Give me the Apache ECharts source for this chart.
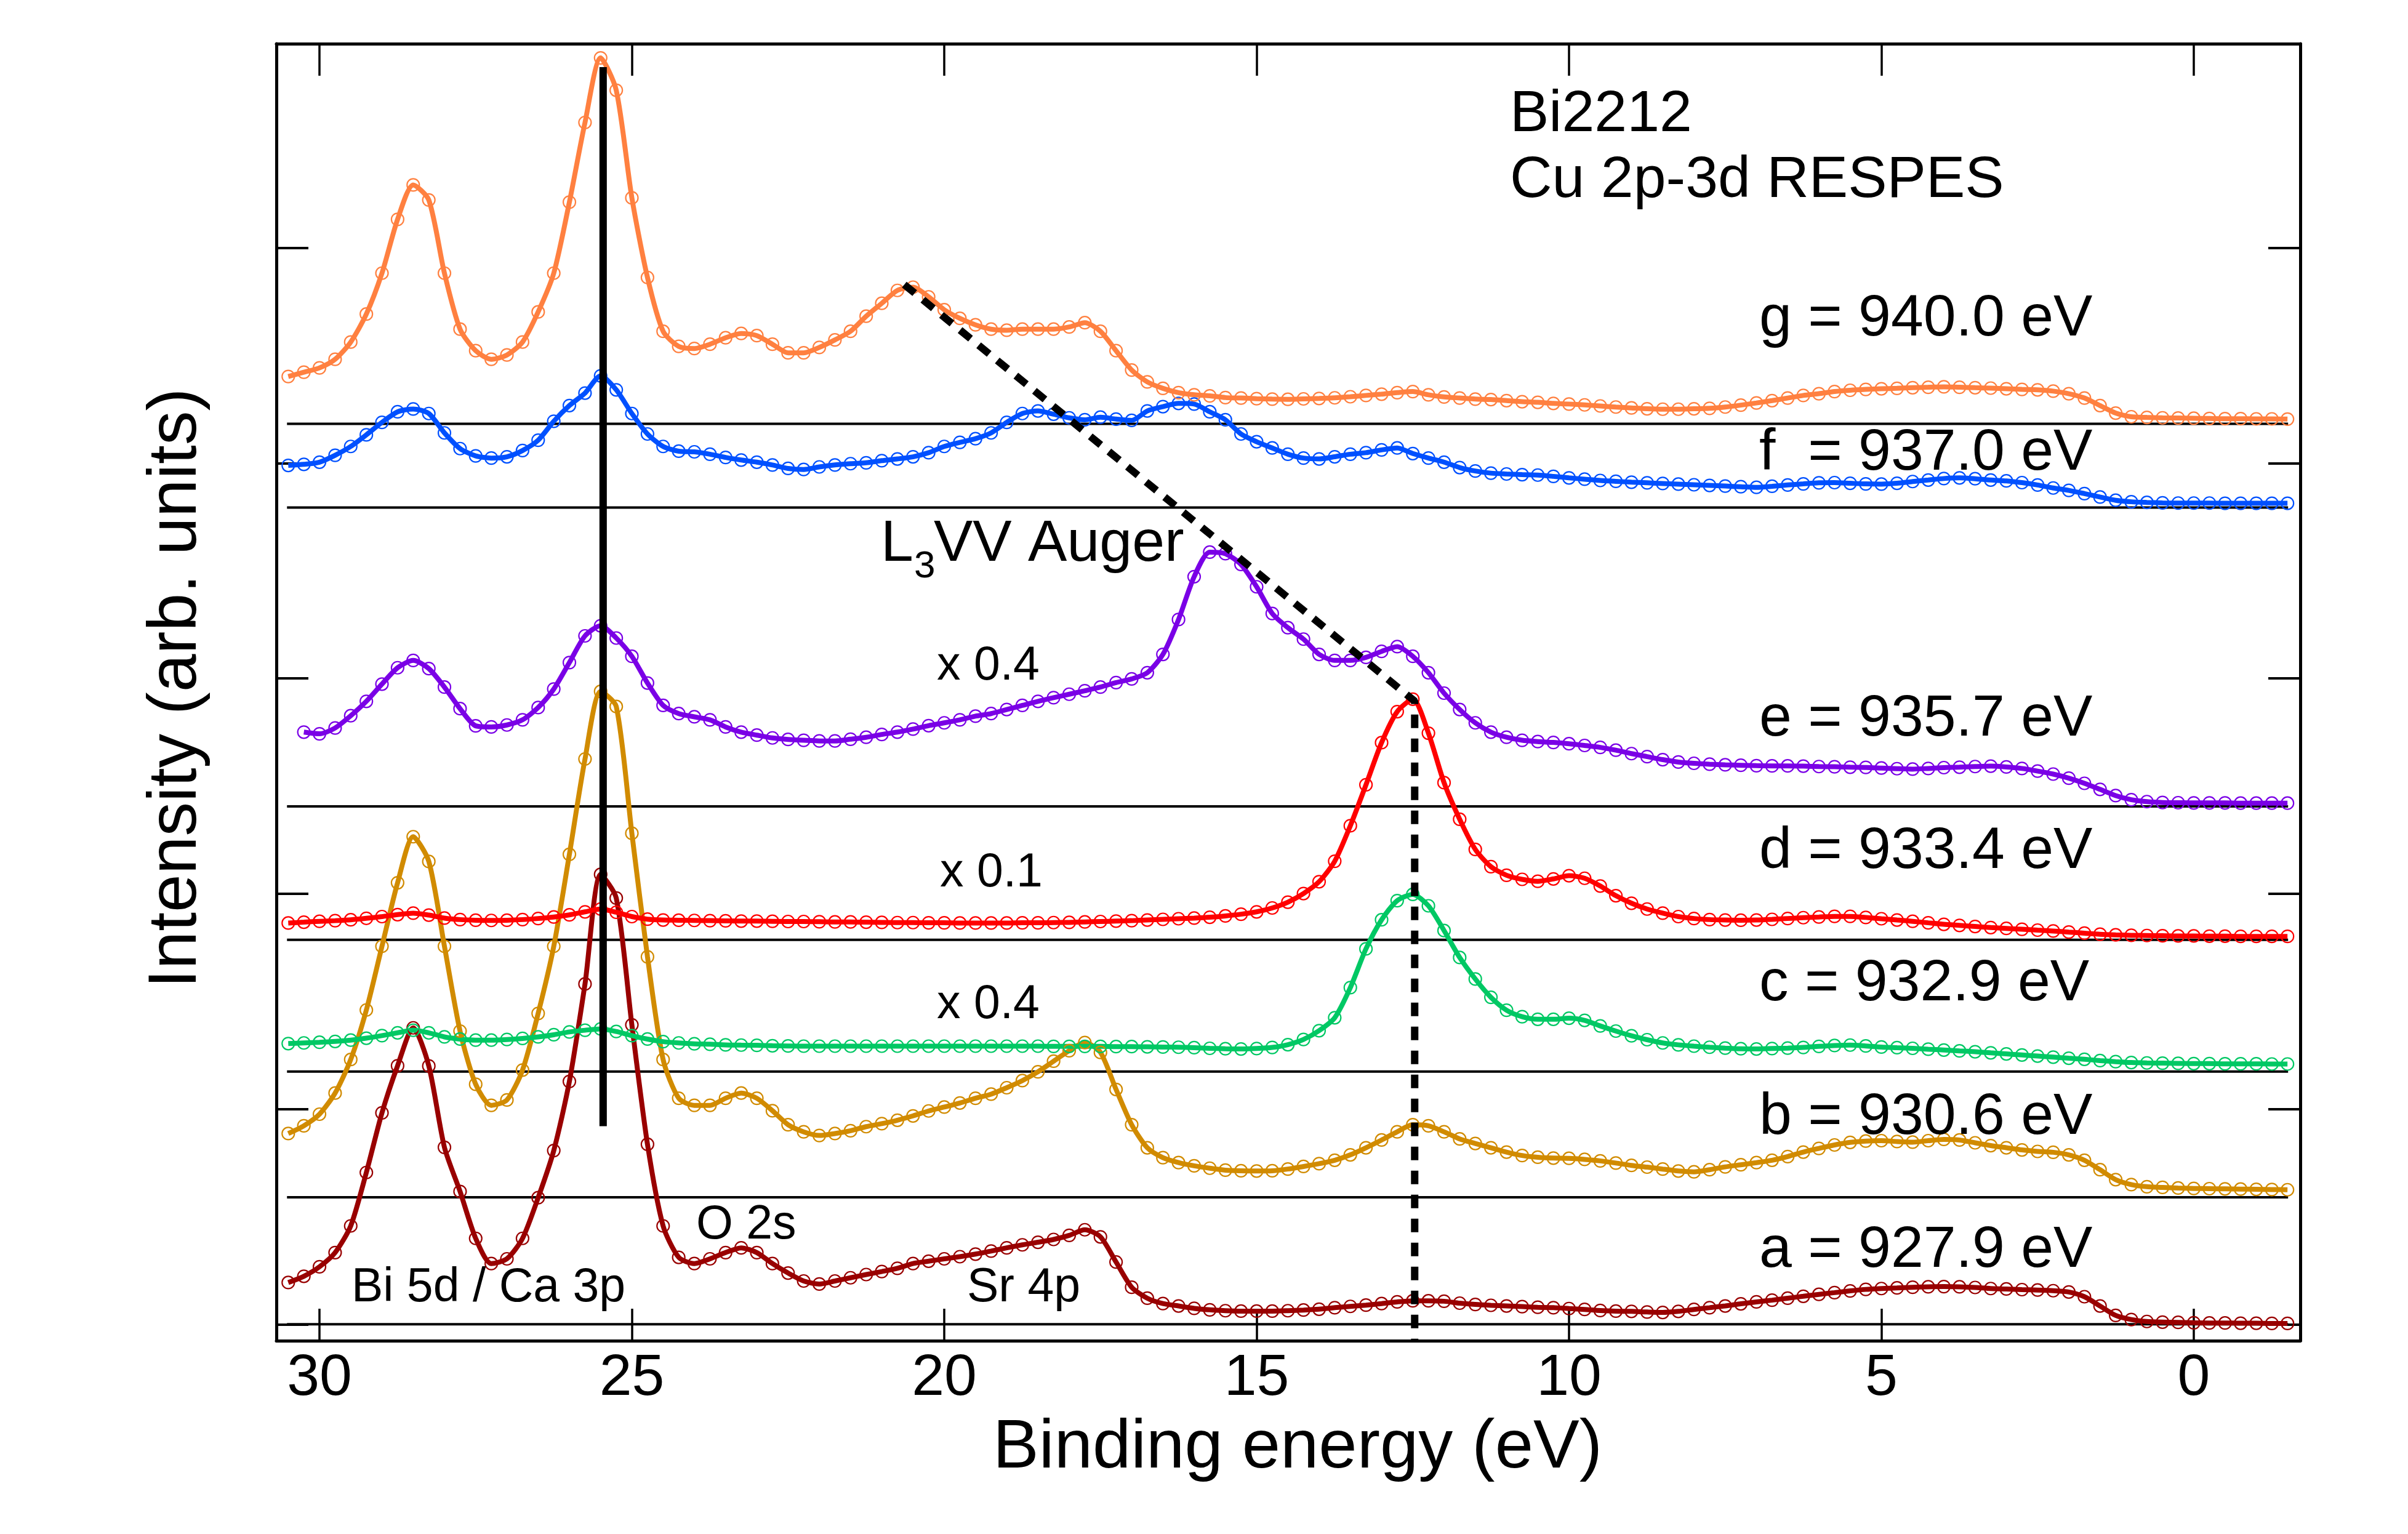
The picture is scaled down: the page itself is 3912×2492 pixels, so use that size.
<!DOCTYPE html>
<html>
<head>
<meta charset="utf-8">
<title>Bi2212 Cu 2p-3d RESPES</title>
<script src="https://cdn.jsdelivr.net/npm/echarts@6.0.0/dist/echarts.min.js"></script>
<style>
  html, body { margin: 0; padding: 0; background: #fff; }
  #chart { width: 3912px; height: 2492px; }
</style>
</head>
<body>
<div id="chart"></div>
<script>
(function(){
  // energy grid: 30.5 eV down to -1.5 eV, 0.25 eV steps (129 points)
  const energyStart = 30.5;
  const energyStep = 0.25;

  // intensities above each spectrum's own baseline (arb. units)
  const specA = [0.194, 0.223,
    0.267, 0.333, 0.457, 0.705,   0.982, 1.201, 1.377, 1.200,   0.822, 0.617, 0.399, 0.282,
    0.304, 0.399, 0.588, 0.807,   1.128, 1.581, 2.090, 1.980,   1.391, 0.836, 0.457, 0.311,
    0.282, 0.304, 0.333, 0.355,   0.333, 0.282, 0.238, 0.201,   0.187, 0.201, 0.216, 0.231,
    0.245, 0.260, 0.282, 0.293,   0.304, 0.314, 0.326, 0.340,   0.355, 0.369, 0.381, 0.394,
    0.413, 0.439, 0.406, 0.289,   0.172, 0.121, 0.096, 0.085,   0.074, 0.067, 0.063, 0.061,
    0.061, 0.061, 0.063, 0.066,   0.070, 0.077, 0.083, 0.089,   0.096, 0.104, 0.109, 0.109,
    0.107, 0.098, 0.092, 0.088,   0.085, 0.082, 0.079, 0.077,   0.073, 0.069, 0.064, 0.061,
    0.060, 0.057, 0.055, 0.060,   0.069, 0.077, 0.085, 0.095,   0.104, 0.112, 0.121, 0.130,
    0.139, 0.147, 0.155, 0.162,   0.166, 0.169, 0.172, 0.174,   0.175, 0.174, 0.171, 0.166,
    0.164, 0.161, 0.159, 0.156,   0.150, 0.128, 0.085, 0.041,   0.022, 0.013, 0.010, 0.009,
    0.007, 0.006, 0.006, 0.005,   0.005, 0.004, 0.004];

  const specB = [0.296, 0.332,
    0.386, 0.484, 0.640, 0.870,   1.166, 1.461, 1.675, 1.560,   1.166, 0.772, 0.525, 0.427,
    0.452, 0.591, 0.854, 1.166,   1.593, 2.036, 2.350, 2.280,   1.691, 1.117, 0.640, 0.460,
    0.427, 0.427, 0.460, 0.484,   0.460, 0.402, 0.337, 0.304,   0.287, 0.296, 0.309, 0.328,
    0.342, 0.358, 0.378, 0.401,   0.419, 0.438, 0.460, 0.479,   0.509, 0.542, 0.583, 0.632,
    0.681, 0.719, 0.673, 0.501,   0.337, 0.230, 0.184, 0.161,   0.146, 0.135, 0.126, 0.123,
    0.122, 0.123, 0.131, 0.143,   0.156, 0.172, 0.197, 0.230,   0.266, 0.304, 0.337, 0.332,
    0.304, 0.271, 0.250, 0.230,   0.210, 0.194, 0.186, 0.182,   0.181, 0.176, 0.169, 0.159,
    0.148, 0.140, 0.131, 0.122,   0.118, 0.128, 0.141, 0.151,   0.161, 0.172, 0.189, 0.210,
    0.227, 0.243, 0.255, 0.261,   0.263, 0.259, 0.256, 0.263,   0.269, 0.266, 0.253, 0.240,
    0.230, 0.220, 0.213, 0.209,   0.197, 0.172, 0.128, 0.082,   0.059, 0.049, 0.046, 0.043,
    0.041, 0.040, 0.039, 0.038,   0.037, 0.036, 0.035];

  const specC = [0.130, 0.133,
    0.136, 0.140, 0.146, 0.155,   0.167, 0.180, 0.192, 0.180,   0.161, 0.151, 0.146, 0.146,
    0.149, 0.154, 0.161, 0.171,   0.184, 0.192, 0.198, 0.186,   0.167, 0.151, 0.139, 0.133,
    0.129, 0.127, 0.124, 0.123,   0.122, 0.120, 0.119, 0.118,   0.118, 0.118, 0.118, 0.118,
    0.118, 0.118, 0.118, 0.118,   0.118, 0.118, 0.118, 0.118,   0.118, 0.118, 0.118, 0.117,
    0.117, 0.117, 0.117, 0.116,   0.116, 0.115, 0.114, 0.113,   0.111, 0.108, 0.106, 0.105,
    0.107, 0.112, 0.125, 0.149,   0.190, 0.250, 0.390, 0.570,   0.705, 0.794, 0.823, 0.770,
    0.655, 0.530, 0.430, 0.345,   0.285, 0.255, 0.243, 0.243,   0.248, 0.238, 0.212, 0.188,
    0.166, 0.148, 0.133, 0.124,   0.118, 0.113, 0.109, 0.106,   0.105, 0.107, 0.109, 0.112,
    0.117, 0.121, 0.123, 0.119,   0.114, 0.111, 0.108, 0.104,   0.100, 0.096, 0.092, 0.087,
    0.082, 0.077, 0.072, 0.067,   0.062, 0.057, 0.051, 0.046,   0.042, 0.040, 0.039, 0.038,
    0.037, 0.037, 0.036, 0.036,   0.036, 0.035, 0.035];

  const specD = [0.078, 0.082,
    0.086, 0.089, 0.093, 0.100,   0.108, 0.117, 0.124, 0.115,   0.101, 0.094, 0.091, 0.090,
    0.091, 0.094, 0.099, 0.106,   0.116, 0.130, 0.143, 0.128,   0.108, 0.096, 0.092, 0.091,
    0.090, 0.089, 0.088, 0.087,   0.087, 0.086, 0.085, 0.085,   0.084, 0.083, 0.083, 0.082,
    0.081, 0.080, 0.080, 0.079,   0.079, 0.078, 0.078, 0.078,   0.078, 0.079, 0.079, 0.080,
    0.081, 0.083, 0.085, 0.087,   0.089, 0.092, 0.095, 0.098,   0.101, 0.105, 0.111, 0.119,
    0.130, 0.148, 0.175, 0.215,   0.270, 0.365, 0.530, 0.720,   0.916, 1.060, 1.118, 0.960,
    0.730, 0.560, 0.420, 0.340,   0.300, 0.281, 0.272, 0.283,   0.298, 0.286, 0.250, 0.205,
    0.170, 0.143, 0.124, 0.108,   0.099, 0.094, 0.092, 0.091,   0.092, 0.095, 0.099, 0.103,
    0.106, 0.109, 0.109, 0.104,   0.098, 0.092, 0.086, 0.079,   0.072, 0.067, 0.062, 0.057,
    0.053, 0.049, 0.045, 0.041,   0.036, 0.031, 0.026, 0.023,   0.021, 0.020, 0.019, 0.018,
    0.018, 0.017, 0.017, 0.016,   0.016, 0.016, 0.016];

  const specE = [null, 0.345,
    0.337, 0.364, 0.421, 0.488,   0.568, 0.644, 0.678, 0.640,   0.554, 0.454, 0.374, 0.369,
    0.378, 0.402, 0.459, 0.545,   0.668, 0.792, 0.839, 0.782,   0.697, 0.573, 0.469, 0.431,
    0.416, 0.402, 0.369, 0.345,   0.331, 0.318, 0.311, 0.307,   0.304, 0.304, 0.312, 0.321,
    0.334, 0.345, 0.359, 0.375,   0.388, 0.402, 0.419, 0.431,   0.450, 0.469, 0.488, 0.505,
    0.521, 0.537, 0.554, 0.575,   0.592, 0.621, 0.706, 0.868,   1.067, 1.181, 1.174, 1.124,
    1.020, 0.896, 0.830, 0.777,   0.706, 0.678, 0.678, 0.692,   0.720, 0.742, 0.697, 0.621,
    0.526, 0.450, 0.388, 0.345,   0.321, 0.307, 0.301, 0.297,   0.291, 0.283, 0.274, 0.261,
    0.245, 0.231, 0.217, 0.206,   0.200, 0.196, 0.193, 0.191,   0.189, 0.188, 0.188, 0.187,
    0.185, 0.184, 0.182, 0.181,   0.178, 0.175, 0.173, 0.176,   0.180, 0.182, 0.185, 0.187,
    0.183, 0.176, 0.164, 0.150,   0.131, 0.107, 0.079, 0.050,   0.031, 0.022, 0.018, 0.017,
    0.016, 0.016, 0.016, 0.015,   0.015, 0.015, 0.015];

  const specF = [0.196, 0.201,
    0.211, 0.243, 0.284, 0.338,   0.396, 0.445, 0.458, 0.437,   0.347, 0.274, 0.240, 0.230,
    0.236, 0.265, 0.313, 0.401,   0.474, 0.532, 0.612, 0.547,   0.437, 0.342, 0.284, 0.262,
    0.259, 0.248, 0.233, 0.221,   0.211, 0.198, 0.182, 0.177,   0.189, 0.198, 0.204, 0.208,
    0.218, 0.226, 0.236, 0.255,   0.284, 0.303, 0.320, 0.347,   0.396, 0.437, 0.449, 0.434,
    0.417, 0.408, 0.420, 0.411,   0.405, 0.449, 0.469, 0.484,   0.481, 0.445, 0.408, 0.342,
    0.306, 0.277, 0.248, 0.230,   0.226, 0.236, 0.248, 0.255,   0.268, 0.277, 0.251, 0.230,
    0.211, 0.186, 0.170, 0.160,   0.156, 0.153, 0.151, 0.145,   0.138, 0.132, 0.126, 0.122,
    0.118, 0.115, 0.112, 0.109,   0.106, 0.103, 0.100, 0.097,   0.094, 0.099, 0.105, 0.110,
    0.115, 0.116, 0.113, 0.110,   0.109, 0.113, 0.121, 0.128,   0.135, 0.138, 0.134, 0.128,
    0.124, 0.116, 0.105, 0.091,   0.080, 0.065, 0.049, 0.034,   0.027, 0.024, 0.022, 0.021,
    0.021, 0.021, 0.020, 0.020,   0.020, 0.020, 0.020];

  const specG = [0.220, 0.240,
    0.260, 0.300, 0.380, 0.510,   0.700, 0.950, 1.110, 1.040,   0.700, 0.440, 0.340, 0.300,
    0.320, 0.380, 0.520, 0.700,   1.030, 1.400, 1.700, 1.550,   1.050, 0.680, 0.430, 0.360,
    0.350, 0.370, 0.400, 0.420,   0.410, 0.370, 0.330, 0.330,   0.355, 0.390, 0.430, 0.500,
    0.560, 0.620, 0.635, 0.590,   0.530, 0.490, 0.460, 0.440,   0.435, 0.440, 0.440, 0.440,
    0.450, 0.470, 0.430, 0.340,   0.250, 0.195, 0.165, 0.145,   0.135, 0.130, 0.122, 0.120,
    0.117, 0.115, 0.114, 0.116,   0.118, 0.121, 0.126, 0.132,   0.138, 0.145, 0.150, 0.135,
    0.125, 0.120, 0.115, 0.113,   0.108, 0.103, 0.100, 0.095,   0.092, 0.088, 0.083, 0.078,
    0.074, 0.070, 0.068, 0.068,   0.070, 0.072, 0.078, 0.087,   0.097, 0.108, 0.120, 0.132,
    0.140, 0.150, 0.156, 0.160,   0.163, 0.165, 0.168, 0.170,   0.172, 0.170, 0.168, 0.166,
    0.163, 0.160, 0.158, 0.152,   0.140, 0.120, 0.085, 0.050,   0.033, 0.030, 0.028, 0.027,
    0.026, 0.025, 0.024, 0.024,   0.023, 0.023, 0.022];

  const spectra = [specA, specB, specC, specD, specE, specF, specG];
  const baselines = [0, 0.590, 1.174, 1.786, 2.406, 3.794, 4.183];
  const colors = ["#990000", "#D18B00", "#00C864", "#FF0000", "#7A00E6", "#0050FF", "#FF8040"];
  const spectrumLabels = ["a = 927.9 eV", "b = 930.6 eV", "c = 932.9 eV", "d = 933.4 eV",
                          "e = 935.7 eV", "f  = 937.0 eV", "g = 940.0 eV"];
  const baselineSpan = [30.52, -1.51];

  // guide lines: solid line at the Bi 5d / Ca 3p peak, dashed line following L3VV Auger
  const solidGuide = [[25.46, 0.92], [25.46, 5.84]];
  const dashedGuide = [[20.64, 4.83], [12.47, 2.895], [12.47, -0.076]];

  const xTicks = [30, 25, 20, 15, 10, 5, 0];
  const yTicks = [0, 1, 2, 3, 4, 5];

  const font = "Liberation Sans";
  const container = document.getElementById("chart");
  const chart = echarts.init(container, null, { renderer: "canvas" });

  const series = [];
  baselines.forEach((b, k) => {
    series.push({
      type: "line", z: 2, silent: true, symbol: "none",
      data: baselineSpan.map(e => [e, b]),
      lineStyle: { color: "#000", width: 4 }
    });
  });
  spectra.forEach((vals, k) => {
    const data = [];
    vals.forEach((v, i) => {
      if (v !== null) data.push([energyStart - i * energyStep, baselines[k] + v]);
    });
    series.push({
      type: "line", z: 3, smooth: 0.25, data: data,
      symbol: "circle", symbolSize: 20,
      itemStyle: { color: "rgba(0,0,0,0)", borderColor: colors[k], borderWidth: 2.2 },
      lineStyle: { color: colors[k], width: 8 }
    });
  });
  series.push({
    type: "line", z: 5, symbol: "none", data: solidGuide,
    lineStyle: { color: "#000", width: 12 }
  });
  series.push({
    type: "line", z: 5, symbol: "none", data: dashedGuide,
    lineStyle: { color: "#000", width: 12, type: [22, 17] }
  });

  const xAxisBase = {
    type: "value", min: -1.705, max: 30.69, inverse: true,
    axisLine: { show: true, onZero: false, lineStyle: { color: "#000", width: 5 } },
    axisTick: { show: true, inside: true, length: 52, customValues: xTicks,
                lineStyle: { color: "#000", width: 3.5 } },
    splitLine: { show: false }
  };
  const yAxisBase = {
    type: "value", min: -0.0764, max: 5.949,
    axisLine: { show: true, onZero: false, lineStyle: { color: "#000", width: 5 } },
    axisTick: { show: true, inside: true, length: 52, customValues: yTicks,
                lineStyle: { color: "#000", width: 4 } },
    axisLabel: { show: false },
    splitLine: { show: false }
  };

  const text = (str, x, y, size, extra) => Object.assign({
    type: "text", x: x, y: y, z: 10,
    style: { text: str, fontSize: size, fontFamily: font, fill: "#000",
             align: "left", verticalAlign: "middle" }
  }, extra || {});

  const labelY = [2032, 1816, 1599, 1384, 1169, 737, 519];
  const graphics = [
    text("Bi2212", 2453, 187, 95),
    text("Cu 2p-3d RESPES", 2453, 294, 95),
    text("L", 1431, 885, 95),
    text("3", 1485, 921, 62),
    text("VV Auger", 1517, 885, 95),
    text("x 0.4", 1522, 1083, 77),
    text("x 0.1", 1527, 1419, 77),
    text("x 0.4", 1522, 1633, 77),
    text("O 2s", 1131, 1991, 77),
    text("Bi 5d / Ca 3p", 571, 2093, 77),
    text("Sr 4p", 1571, 2093, 77),
    {
      type: "text", x: 2108, y: 2353, z: 10,
      style: { text: "Binding energy (eV)", fontSize: 112, fontFamily: font, fill: "#000",
               align: "center", verticalAlign: "middle" }
    },
    {
      type: "text", x: 287, y: 1118, z: 10, rotation: Math.PI / 2,
      style: { text: "Intensity (arb. units)", fontSize: 111, fontFamily: font, fill: "#000",
               align: "center", verticalAlign: "middle" }
    }
  ];
  spectrumLabels.forEach((s, k) => graphics.push(text(s, 2858, labelY[k], 95)));

  const option = {
    animation: false,
    backgroundColor: "#fff",
    grid: { left: 449, right: 175, top: 71, bottom: 314, containLabel: false },
    xAxis: [
      Object.assign({}, xAxisBase, { position: "bottom",
        axisLabel: { show: true, customValues: xTicks, fontSize: 95, fontFamily: font,
                     color: "#000", margin: 14 } }),
      Object.assign({}, xAxisBase, { position: "top", axisLabel: { show: false } })
    ],
    yAxis: [
      Object.assign({}, yAxisBase, { position: "left" }),
      Object.assign({}, yAxisBase, { position: "right" })
    ],
    series: series,
    graphic: graphics
  };

  chart.setOption(option);
  window.addEventListener("resize", () => chart.resize());
})();
</script>
</body>
</html>
